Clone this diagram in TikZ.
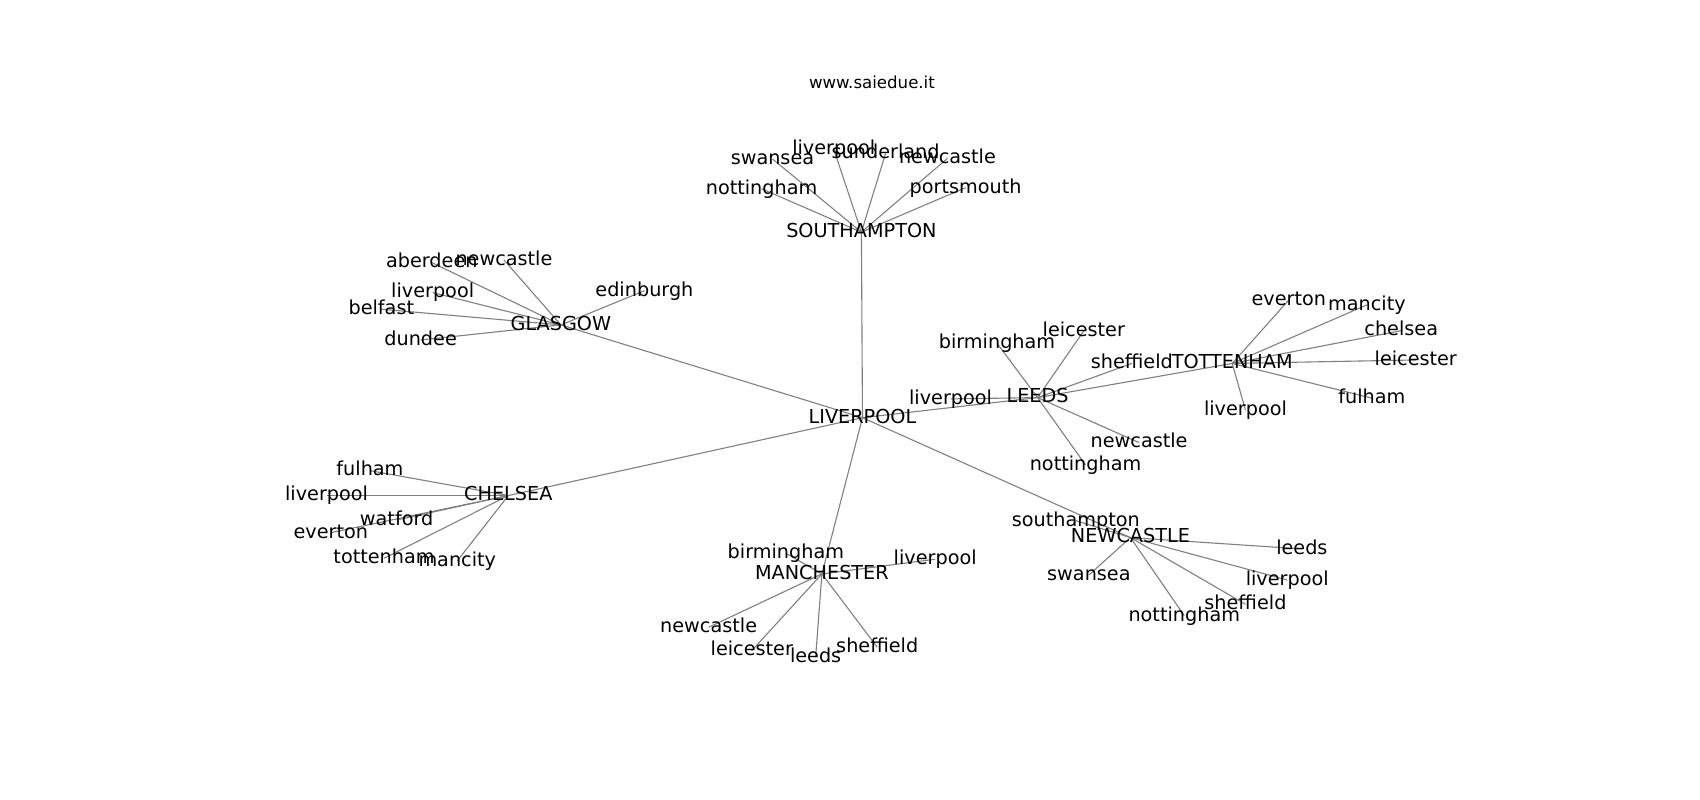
\documentclass[tikz,border=0pt]{standalone}
\usepackage{fontspec}
\setmainfont{DejaVu Sans}
\usetikzlibrary{backgrounds}
\begin{document}
\begin{tikzpicture}[x=0.010849in, y=-0.010849in,
  lab/.style={font=\fontsize{13.9}{16}\selectfont, text height=10.6pt, text depth=2.9pt, inner sep=0pt, anchor=center},
  ttl/.style={font=\fontsize{12}{14}\selectfont, inner sep=0pt, anchor=center},
  edge/.style={draw=gray, line width=0.8pt}]
\useasboundingbox (0,0) rectangle (1567,737.4);
\node[ttl] (title) at (803.7,76.3) {www.saiedue.it};
% hubs
\node[lab] (liv) at (795,385) {LIVERPOOL};
\node[lab] (sou) at (794,214) {SOUTHAMPTON};
\node[lab] (gla) at (517,299.5) {GLASGOW};
\node[lab] (lee) at (956.4,366.5) {LEEDS};
\node[lab] (tot) at (1135.8,335) {TOTTENHAM};
\node[lab] (che) at (468.5,456.8) {CHELSEA};
\node[lab] (man) at (757.6,529) {MANCHESTER};
\node[lab] (new) at (1042,495.5) {NEWCASTLE};
% southampton leaves
\node[lab] (sswa) at (712,146.5) {swansea};
\node[lab] (sliv) at (768.5,137.5) {liverpool};
\node[lab] (ssun) at (816.3,141.3) {sunderland};
\node[lab] (snew) at (873.3,146) {newcastle};
\node[lab] (snot) at (702,174) {nottingham};
\node[lab] (spor) at (890,173) {portsmouth};
% glasgow leaves
\node[lab] (gabe) at (398,242) {aberdeen};
\node[lab] (gnew) at (464.5,239.6) {newcastle};
\node[lab] (gliv) at (398.8,269.7) {liverpool};
\node[lab] (gbel) at (351.5,285) {belfast};
\node[lab] (gdun) at (387.7,313.4) {dundee};
\node[lab] (gedi) at (594,268) {edinburgh};
% leeds leaves
\node[lab] (lbir) at (919,316.4) {birmingham};
\node[lab] (llei) at (999,305) {leicester};
\node[lab] (lshe) at (1043.3,335) {sheffield};
\node[lab] (lliv) at (876.2,367.7) {liverpool};
\node[lab] (lnew) at (1050,408) {newcastle};
\node[lab] (lnot) at (1000.6,428.6) {nottingham};
% tottenham leaves
\node[lab] (tevo) at (1188,276.5) {everton};
\node[lab] (tman) at (1260,281) {mancity};
\node[lab] (tche) at (1291.6,304.8) {chelsea};
\node[lab] (tlei) at (1305,331.8) {leicester};
\node[lab] (tful) at (1264.5,367) {fulham};
\node[lab] (tliv) at (1148,378) {liverpool};
% chelsea leaves
\node[lab] (cful) at (341,433.8) {fulham};
\node[lab] (cliv) at (301,456.8) {liverpool};
\node[lab] (cwat) at (365.6,479.3) {watford};
\node[lab] (cevo) at (305,491) {everton};
\node[lab] (ctot) at (354,514.6) {tottenham};
\node[lab] (cman) at (421.5,517) {mancity};
% manchester leaves
\node[lab] (mbir) at (724.4,510) {birmingham};
\node[lab] (mliv) at (862,515.5) {liverpool};
\node[lab] (mnew) at (653.2,578.2) {newcastle};
\node[lab] (mlei) at (693,599.7) {leicester};
\node[lab] (mlee) at (751.8,606) {leeds};
\node[lab] (mshe) at (808.6,596.6) {sheffield};
% newcastle leaves
\node[lab] (nsou) at (991.7,480) {southampton};
\node[lab] (nlee) at (1200,506) {leeds};
\node[lab] (nswa) at (1003.7,530) {swansea};
\node[lab] (nliv) at (1186.5,534.6) {liverpool};
\node[lab] (nshe) at (1148,557) {sheffield};
\node[lab] (nnot) at (1091.6,567.5) {nottingham};
\begin{pgfonlayer}{background}
\foreach \h in {sou,gla,lee,che,man,new} \draw[edge] (liv.center) -- (\h.center);
\draw[edge] (lee.center) -- (tot.center);
\foreach \l in {sswa,sliv,ssun,snew,snot,spor} \draw[edge] (sou.center) -- (\l.center);
\foreach \l in {gabe,gnew,gliv,gbel,gdun,gedi} \draw[edge] (gla.center) -- (\l.center);
\foreach \l in {lbir,llei,lshe,lliv,lnew,lnot} \draw[edge] (lee.center) -- (\l.center);
\foreach \l in {tevo,tman,tche,tlei,tful,tliv} \draw[edge] (tot.center) -- (\l.center);
\foreach \l in {cful,cliv,cwat,cevo,ctot,cman} \draw[edge] (che.center) -- (\l.center);
\foreach \l in {mbir,mliv,mnew,mlei,mlee,mshe} \draw[edge] (man.center) -- (\l.center);
\foreach \l in {nsou,nlee,nswa,nliv,nshe,nnot} \draw[edge] (new.center) -- (\l.center);
\end{pgfonlayer}
\end{tikzpicture}
\end{document}
